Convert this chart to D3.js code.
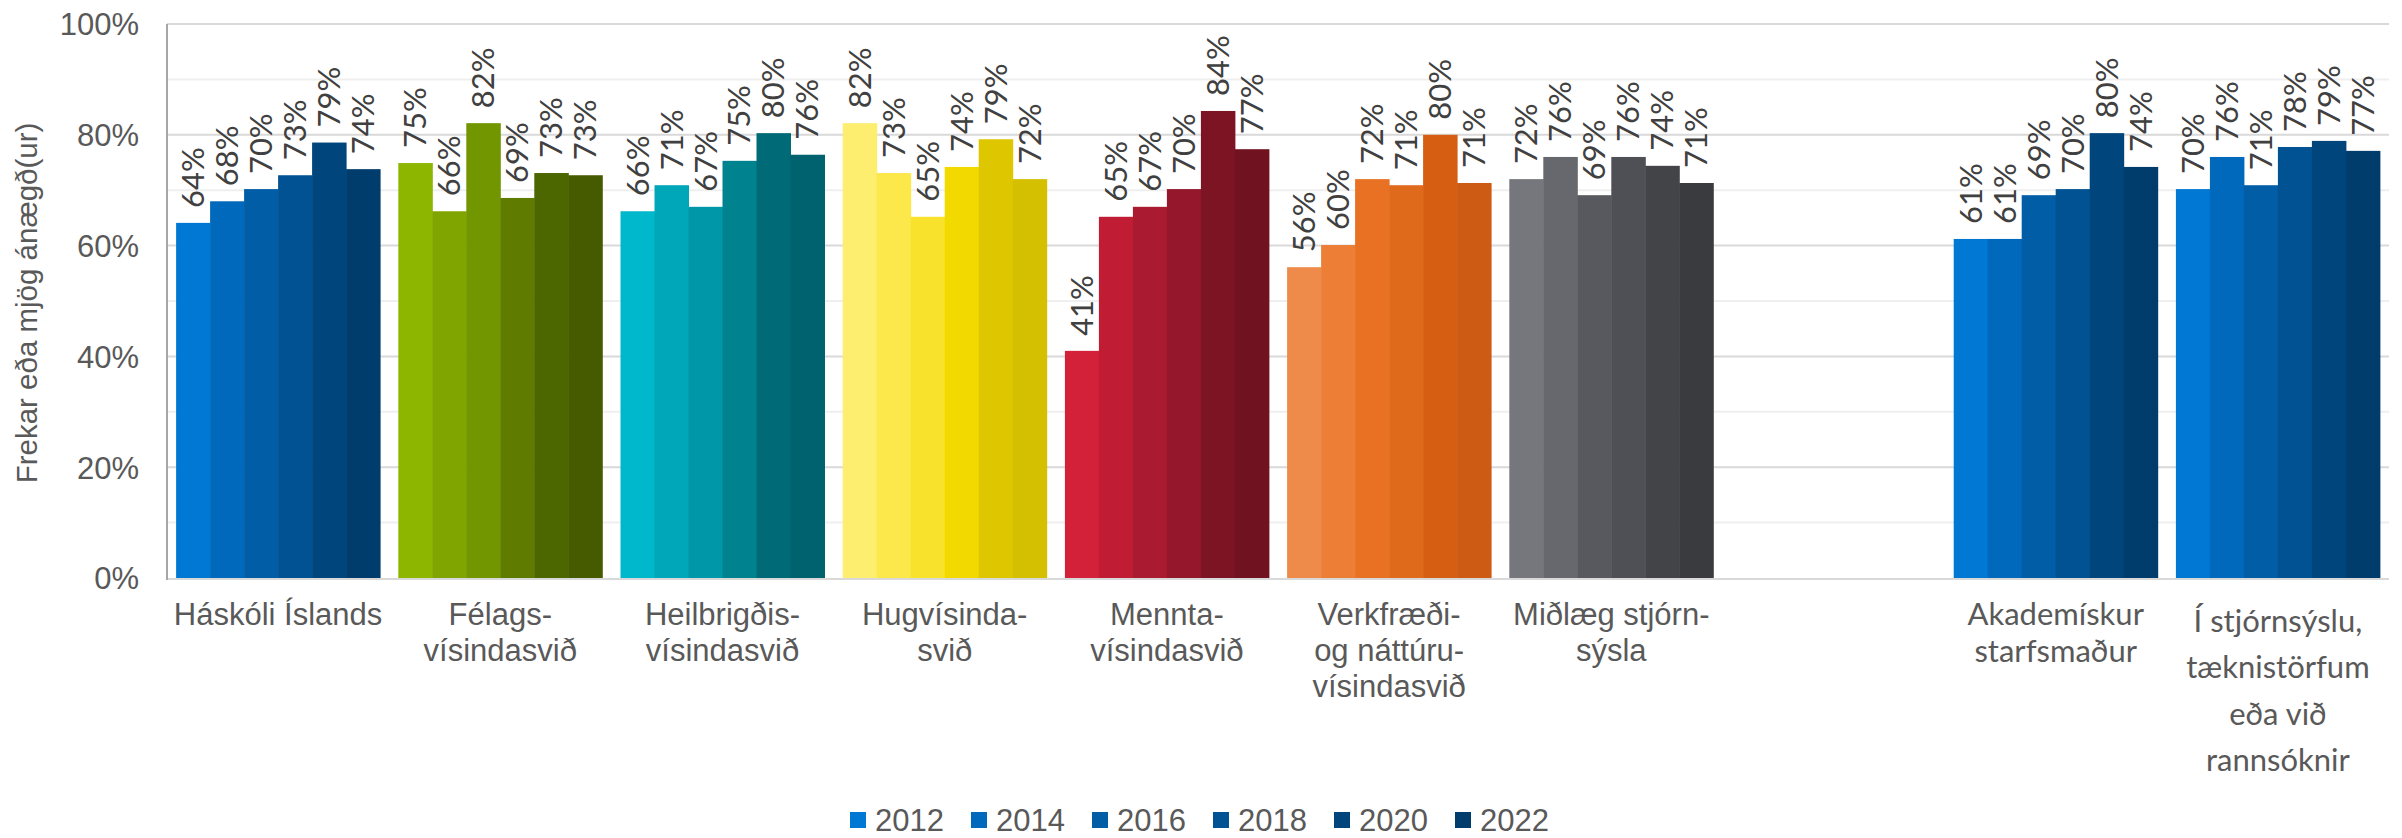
<!DOCTYPE html>
<html>
<head>
<meta charset="utf-8">
<script src="https://cdn.jsdelivr.net/npm/d3@7"></script>
<style>
  body { margin: 0; background: #fff; }
  svg { display: block; }
</style>
</head>
<body>
<div id="chart"></div>
<script>
// data (% satisfied, by year)
const years = ["2012", "2014", "2016", "2018", "2020", "2022"];

const categoryKeys = ["hi", "fel", "heil", "hug", "mennta", "verk", "midlaeg", "blank", "akad", "stjorn"];
const categoryLines = [
    ["Háskóli Íslands"],
    ["Félags-", "vísindasvið"],
    ["Heilbrigðis-", "vísindasvið"],
    ["Hugvísinda-", "svið"],
    ["Mennta-", "vísindasvið"],
    ["Verkfræði-", "og náttúru-", "vísindasvið"],
    ["Miðlæg stjórn-", "sýsla"],
    [],
    ["Akademískur", "starfsmaður"],
    ["Í stjórnsýslu,", "tæknistörfum", "eða við", "rannsóknir"]
];

const haskoliIslands   = [64.1, 68.0, 70.2, 72.7, 78.6, 73.8];
const felagsvisindi    = [74.9, 66.2, 82.1, 68.6, 73.1, 72.7];
const heilbrigdisvis   = [66.2, 70.9, 67.0, 75.3, 80.3, 76.4];
const hugvisindi       = [82.1, 73.1, 65.2, 74.2, 79.2, 72.0];
const menntavisindi    = [41.0, 65.2, 67.0, 70.2, 84.3, 77.4];
const verkfraedi       = [56.1, 60.1, 72.0, 70.9, 80.0, 71.3];
const midlaeg          = [72.0, 76.0, 69.1, 76.0, 74.4, 71.3];
const akademiskur      = [61.2, 61.2, 69.1, 70.2, 80.3, 74.2];
const stjornsysla      = [70.2, 76.0, 70.9, 77.8, 78.9, 77.1];

const seriesByCategory = [haskoliIslands, felagsvisindi, heilbrigdisvis, hugvisindi,
    menntavisindi, verkfraedi, midlaeg, null, akademiskur, stjornsysla];

// colour ramps, light -> dark, one per school
const blues   = ["#0078d4", "#0069bb", "#005da6", "#005292", "#00467c", "#003c6c"];
const greens  = ["#8db600", "#80a500", "#729600", "#5f7c00", "#4c6600", "#465a00"];
const teals   = ["#00b8cc", "#00a7b9", "#0097a9", "#00828f", "#006b76", "#00626e"];
const yellows = ["#fdee70", "#fce84a", "#f9e22b", "#f2da00", "#dec600", "#d4c000"];
const reds    = ["#d4213a", "#c01d34", "#aa1a30", "#94172c", "#7d1423", "#701220"];
const oranges = ["#ee8a4a", "#ec7e36", "#e87124", "#e06a1c", "#d65e12", "#ce5b14"];
const grays   = ["#76777d", "#67686d", "#58595e", "#4f5055", "#434448", "#3a3b3f"];
const paletteByCategory = [blues, greens, teals, yellows, reds, oranges, grays, null, blues, blues];

const W = 2402, H = 838;
const plotLeft = 167, plotRight = 2389, plotTop = 24, plotBottom = 578;

const svg = d3.select("#chart").append("svg")
    .attr("width", W)
    .attr("height", H);

const x0 = d3.scaleBand()
    .domain(categoryKeys)
    .range([plotLeft, plotRight])
    .paddingInner(0.082)
    .paddingOuter(0.041);

const x1 = d3.scaleBand()
    .domain(years)
    .range([0, x0.bandwidth()]);

const y = d3.scaleLinear()
    .domain([0, 1])
    .range([plotBottom, plotTop]);

// gridlines every 10 %, stronger every 20 %
const grid = d3.range(1, 11).map(i => i / 10);
svg.append("g").selectAll("line")
    .data(grid)
    .join("line")
    .attr("x1", plotLeft).attr("x2", plotRight)
    .attr("y1", d => y(d)).attr("y2", d => y(d))
    .attr("stroke", (d, i) => (i % 2 === 1) ? "#d9d9d9" : "#efefef")
    .attr("stroke-width", 2);

// bars
const rows = [];
seriesByCategory.forEach((vals, ci) => {
    if (!vals) return;
    vals.forEach((v, yi) => rows.push({
        cat: categoryKeys[ci], year: years[yi], value: v / 100,
        color: paletteByCategory[ci][yi]
    }));
});

const bars = svg.append("g");
bars.selectAll("rect")
    .data(rows)
    .join("rect")
    .attr("x", d => x0(d.cat) + x1(d.year))
    .attr("y", d => y(d.value))
    .attr("width", x1.bandwidth() + 0.5)
    .attr("height", d => y(0) - y(d.value))
    .attr("fill", d => d.color);

// data labels, rotated
const pct = d3.format(".0%");
bars.selectAll("text")
    .data(rows)
    .join("text")
    .attr("transform", d => `translate(${x0(d.cat) + x1(d.year) + x1.bandwidth() / 2 + 11},${y(d.value) - 15}) rotate(-90)`)
    .attr("font-family", "Lato, 'Open Sans', sans-serif")
    .attr("font-size", 31)
    .attr("fill", "#404040")
    .text(d => pct(Math.round(d.value * 100) / 100));

// axes lines
svg.append("line")
    .attr("x1", plotLeft).attr("x2", plotRight)
    .attr("y1", plotBottom + 1).attr("y2", plotBottom + 1)
    .attr("stroke", "#d9d9d9").attr("stroke-width", 2);
svg.append("line")
    .attr("x1", plotLeft).attr("x2", plotLeft)
    .attr("y1", plotTop).attr("y2", plotBottom + 2)
    .attr("stroke", "#a6a6a6").attr("stroke-width", 2);

// y axis labels
const yAxis = svg.append("g")
    .attr("transform", `translate(${plotLeft - 28},0)`)
    .call(d3.axisLeft(y).tickValues([0, 0.2, 0.4, 0.6, 0.8, 1]).tickFormat(d3.format(".0%")).tickSize(0).tickPadding(0));
yAxis.select(".domain").remove();
yAxis.selectAll("text")
    .attr("font-family", "'Liberation Sans', Arial, sans-serif")
    .attr("font-size", 31)
    .attr("fill", "#595959")
    .attr("dy", "0.35em");

// y axis title
svg.append("text")
    .attr("transform", `translate(37,${(plotTop + plotBottom) / 2 + 2}) rotate(-90)`)
    .attr("text-anchor", "middle")
    .attr("font-family", "'Liberation Sans', Arial, sans-serif")
    .attr("font-size", 29.5)
    .attr("fill", "#595959")
    .text("Frekar eða mjög ánægð(ur)");

// category labels (last two use a different face and leading)
const catG = svg.append("g");
categoryKeys.forEach((k, ci) => {
    const lines = categoryLines[ci];
    const alt = ci >= 8;
    const y0 = ci === 9 ? 632 : 625;
    const lead = ci === 9 ? 46.3 : (ci === 8 ? 37 : 36);
    const t = catG.append("text")
        .attr("text-anchor", "middle")
        .attr("font-family", alt ? "Lato, 'Open Sans', sans-serif" : "'Liberation Sans', Arial, sans-serif")
        .attr("font-size", 31)
        .attr("fill", "#595959");
    lines.forEach((ln, li) => {
        t.append("tspan")
            .attr("x", x0(k) + x0.bandwidth() / 2)
            .attr("y", y0 + li * lead)
            .text(ln);
    });
});

// legend
const legend = svg.append("g")
    .selectAll("g")
    .data(years)
    .join("g")
    .attr("transform", (d, i) => `translate(${850 + i * 121},820)`);
legend.append("rect")
    .attr("x", 0).attr("y", -8)
    .attr("width", 16).attr("height", 16)
    .attr("fill", (d, i) => blues[i]);
legend.append("text")
    .attr("x", 25)
    .attr("y", 11)
    .attr("font-family", "'Liberation Sans', Arial, sans-serif")
    .attr("font-size", 31)
    .attr("fill", "#595959")
    .text(d => d);
</script>
</body>
</html>
